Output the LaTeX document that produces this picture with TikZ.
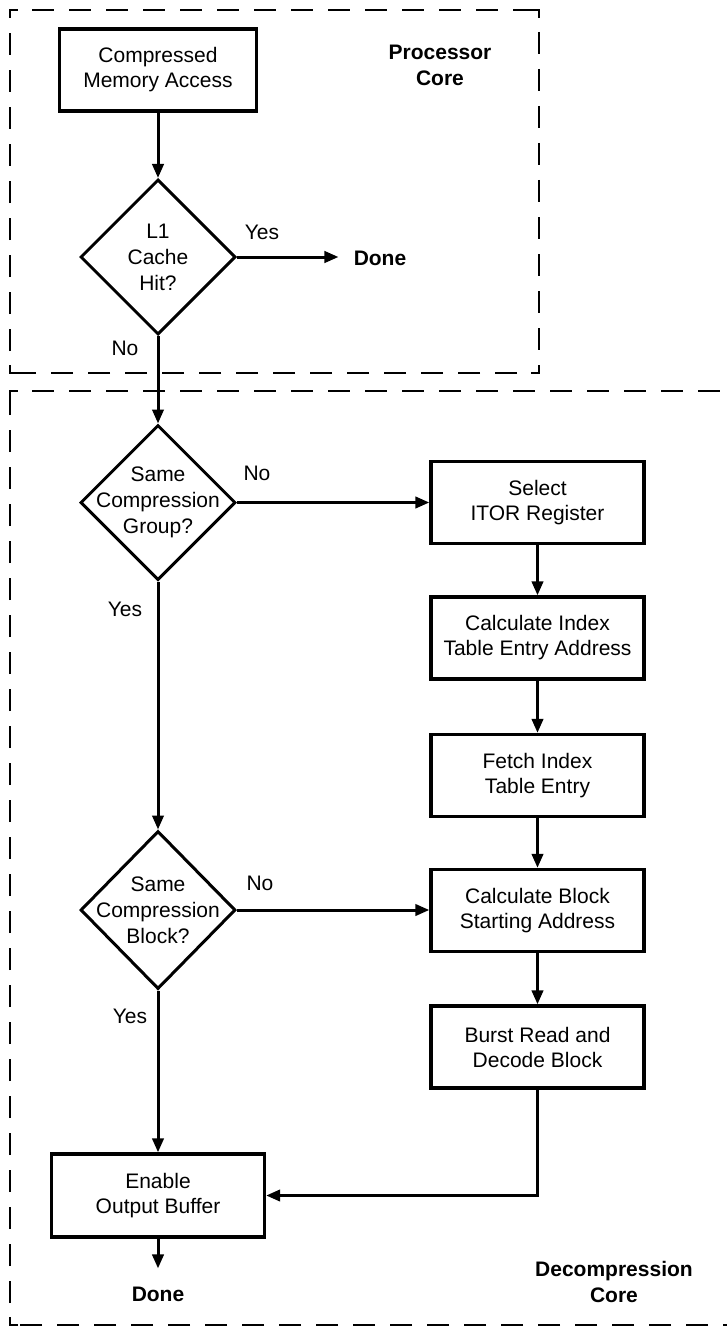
\documentclass[tikz,border=0pt]{standalone}
\usepackage{fontspec}
\setmainfont{Liberation Sans}
\usetikzlibrary{shapes.geometric,arrows.meta}
\begin{document}
\begin{tikzpicture}[x=0.75pt,y=-0.75pt,
  every node/.style={font=\fontsize{15.75pt}{18.75pt}\selectfont},
  box/.style={draw, line width=2.5pt, minimum width=159.75pt, minimum height=61.5pt, align=center, inner sep=0pt},
  dia/.style={draw, diamond, line width=2.25pt, minimum width=116.25pt, minimum height=116.25pt, inner sep=0pt},
  conn/.style={line width=2.25pt, -{Triangle[length=10.5pt,width=8.5pt]}},
  bound/.style={line width=1.8pt, dash pattern=on 16.5pt off 11.25pt, dash phase=11.25pt},
  corner/.style={line width=1.8pt},
  lbl/.style={align=center, inner sep=0pt},
  dlbl/.style={lbl, font=\fontsize{15.75pt}{19.5pt}\selectfont},
  blbl/.style={lbl, font=\fontsize{15.75pt}{19.5pt}\selectfont\bfseries}
]
\useasboundingbox (0,0) rectangle (727,1327);

% Processor core boundary
\draw[bound] (10,10) -- (539,10);
\draw[bound] (539,10) -- (539,373);
\draw[bound] (539,373) -- (10,373);
\draw[bound] (10,373) -- (10,10);
\draw[corner] (10,18) -- (10,10) -- (18,10);
\draw[corner] (531,10) -- (539,10) -- (539,18);
\draw[corner] (539,365) -- (539,373) -- (531,373);
\draw[corner] (18,373) -- (10,373) -- (10,365);

% Decompression core boundary
\draw[bound] (10,391) -- (730,391);
\draw[bound] (10,1325) -- (10,391);
\draw[bound] (730,1325) -- (10,1325);
\draw[corner] (10,399) -- (10,391) -- (18,391);
\draw[corner] (18,1325) -- (10,1325) -- (10,1317);

% region labels
\node[blbl] (pc) at (440,65) {Processor\\Core};
\node[blbl] (dc) at (614,1282) {Decompression\\Core};

% nodes
\node[box, minimum width=147.75pt] (a) at (158,70) {Compressed\\Memory Access};
\node[dia] (d1) at (158,257) {};
\node[dlbl] (t1) at (d1) {L1\\Cache\\Hit?};
\node[blbl] (done1) at (380,258) {Done};

\node[dia] (d2) at (158,502.5) {};
\node[dlbl] (t2) at (d2) {Same\\Compression\\Group?};

\node[dia, minimum height=118.5pt] (d3) at (158,910) {};
\node[dlbl] (t3) at (d3) {Same\\Compression\\Block?};

\node[box] (s1) at (537.5,502.5) {Select\\ITOR Register};
\node[box] (c1) at (537.5,638) {Calculate Index\\Table Entry Address};
\node[box] (f1) at (537.5,775.5) {Fetch Index\\Table Entry};
\node[box] (b1) at (537.5,910.5) {Calculate Block\\Starting Address};
\node[box] (r1) at (537.5,1047) {Burst Read and\\Decode Block};
\node[box, minimum height=62.25pt] (e1) at (158,1195.5) {Enable\\Output Buffer};
\node[blbl] (done2) at (158,1294) {Done};

% labels on branches
\node[lbl] (y1) at (262,232) {Yes};
\node[lbl] (n1) at (125,348) {No};
\node[lbl] (n2) at (257,473) {No};
\node[lbl] (y2) at (125,609) {Yes};
\node[lbl] (n3) at (260,883) {No};
\node[lbl] (y3) at (130,1016) {Yes};

% connectors
\draw[conn] (a.south) -- (d1.north);
\draw[conn, shorten >=11.25pt] (d1.east) -- (d1.east -| done1.west);
\draw[conn] (d1.south) -- (d2.north);
\draw[conn] (d2.east) -- (d2.east -| s1.west);
\draw[conn] (s1.south) -- (c1.north);
\draw[conn] (c1.south) -- (f1.north);
\draw[conn] (f1.south) -- (b1.north);
\draw[conn] (d2.south) -- (d3.north);
\draw[conn] (d3.east) -- (d3.east -| b1.west);
\draw[conn] (b1.south) -- (r1.north);
\draw[conn] (d3.south) -- (e1.north);
\draw[conn] (r1.south) |- (e1.east);
\draw[conn, shorten >=13.5pt] (e1.south) -- (done2.north);
\end{tikzpicture}
\end{document}
